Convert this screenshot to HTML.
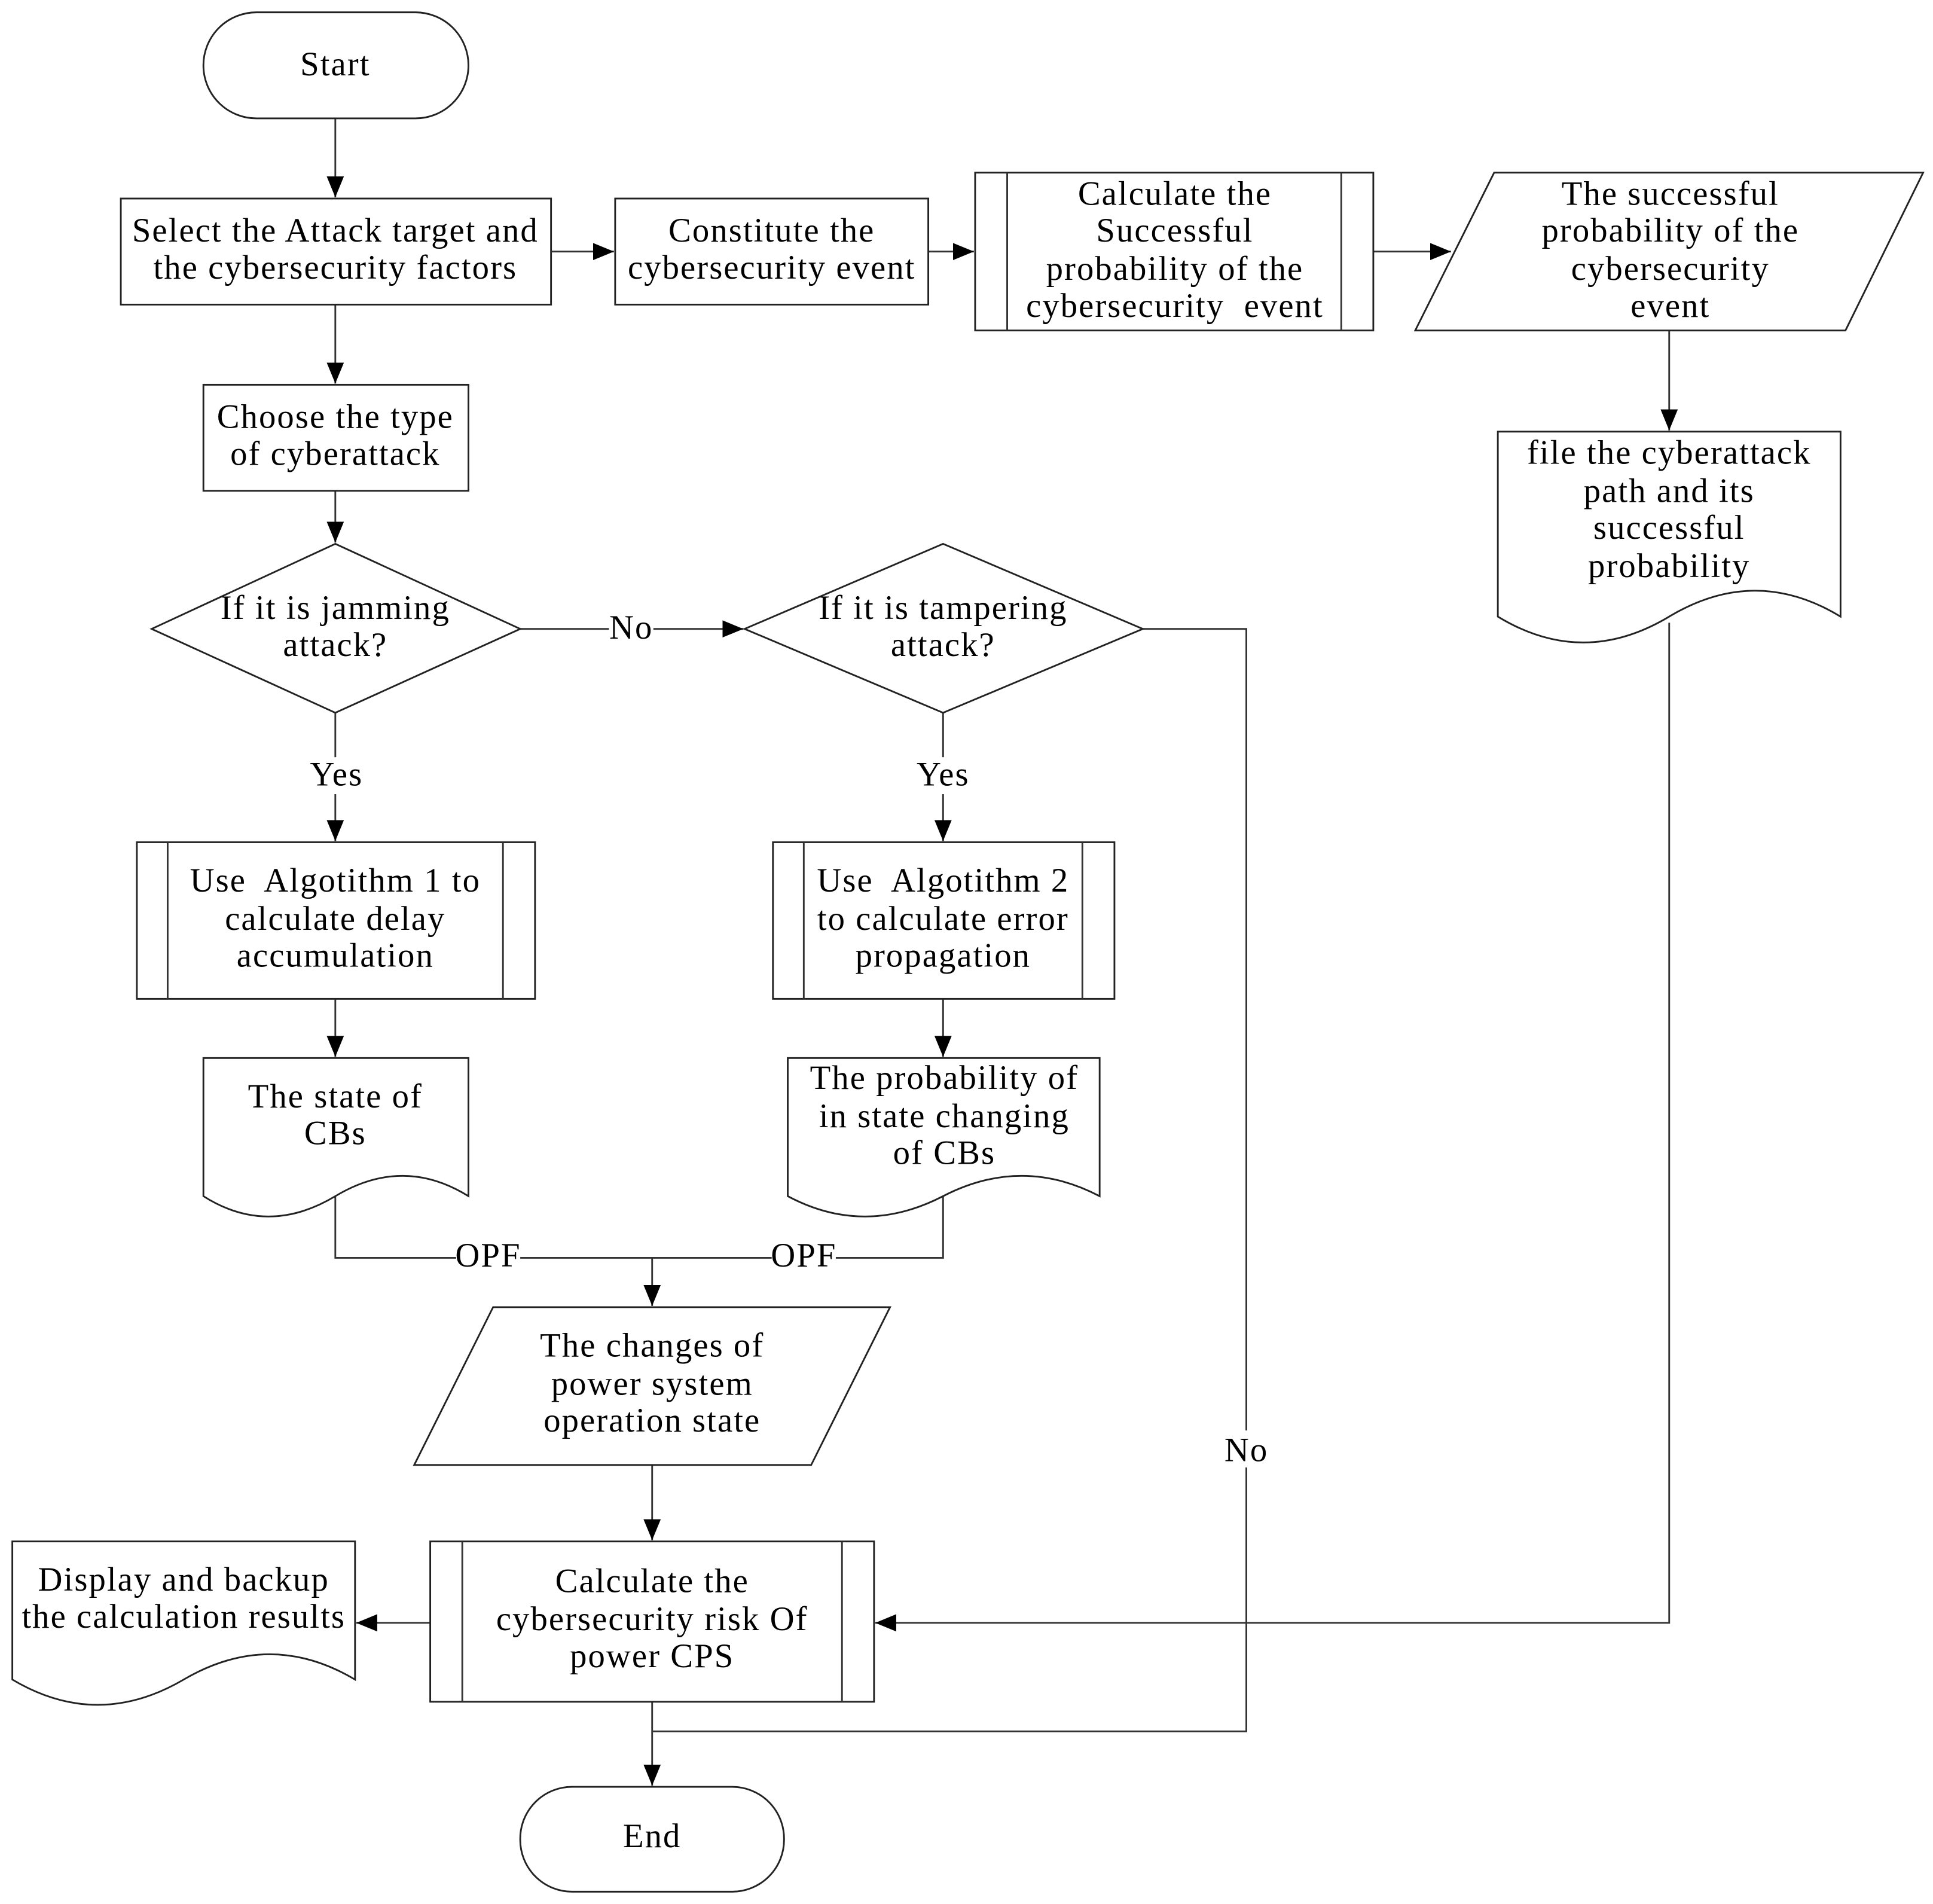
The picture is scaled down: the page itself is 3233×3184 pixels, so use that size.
<!DOCTYPE html>
<html><head><meta charset="utf-8"><style>
html,body{margin:0;padding:0;background:#fff;width:3233px;height:3184px;overflow:hidden}
svg{display:block}
text{font-family:"Liberation Serif",serif;font-size:27.5px;letter-spacing:1px;fill:#000;text-anchor:middle}
.s{fill:#fff;stroke:#222;stroke-width:1.4}
.l{fill:none;stroke:#333;stroke-width:1.4}
</style></head><body>
<svg width="3233" height="3184" viewBox="0 0 1568 1544" preserveAspectRatio="none">
<defs>
<marker id="b" markerWidth="18" markerHeight="18" refX="17" refY="9" orient="auto" markerUnits="userSpaceOnUse"><path d="M0,2 L17,9 L0,16 z" fill="#000"/></marker></defs>

<path class="l" d="M272,96 V160" marker-end="url(#b)"/>
<path class="l" d="M447,204 H498" marker-end="url(#b)"/>
<path class="l" d="M753,204 H790" marker-end="url(#b)"/>
<path class="l" d="M1114,204 H1177" marker-end="url(#b)"/>
<path class="l" d="M272,247 V311" marker-end="url(#b)"/>
<path class="l" d="M1354,268 V349" marker-end="url(#b)"/>
<path class="l" d="M272,398 V440" marker-end="url(#b)"/>
<path class="l" d="M422,510 H603" marker-end="url(#b)"/>
<path class="l" d="M272,578 V682" marker-end="url(#b)"/>
<path class="l" d="M765,578 V682" marker-end="url(#b)"/>
<path class="l" d="M272,810 V857" marker-end="url(#b)"/>
<path class="l" d="M765,810 V857" marker-end="url(#b)"/>
<path class="l" d="M272,970 V1020 H765 V970"/>
<path class="l" d="M529,1020 V1059" marker-end="url(#b)"/>
<path class="l" d="M529,1188 V1249" marker-end="url(#b)"/>
<path class="l" d="M927,510 H1011 V1404 H529"/>
<path class="l" d="M529,1380 V1448" marker-end="url(#b)"/>
<path class="l" d="M1354,505 V1316 H710" marker-end="url(#b)"/>
<path class="l" d="M349,1316 H289" marker-end="url(#b)"/>

<rect x="494" y="496" width="36" height="28" fill="#fff"/>
<text x="512" y="518">No</text>
<rect x="250" y="614" width="46" height="30" fill="#fff"/>
<text x="273" y="637">Yes</text>
<rect x="742" y="614" width="46" height="30" fill="#fff"/>
<text x="765" y="637">Yes</text>
<rect x="370" y="1006" width="52" height="28" fill="#fff"/>
<text x="396" y="1027">OPF</text>
<rect x="626" y="1006" width="52" height="28" fill="#fff"/>
<text x="652" y="1027">OPF</text>
<rect x="992" y="1160" width="38" height="30" fill="#fff"/>
<text x="1011" y="1185">No</text>

<rect class="s" x="165" y="10" width="215" height="86" rx="43"/>
<text x="272" y="61">Start</text>

<rect class="s" x="98" y="161" width="349" height="86"/>
<text x="272" y="196">Select the Attack target and</text>
<text x="272" y="226">the cybersecurity factors</text>

<rect class="s" x="499" y="161" width="254" height="86"/>
<text x="626" y="196">Constitute the</text>
<text x="626" y="226">cybersecurity event</text>

<rect class="s" x="791" y="140" width="323" height="128"/>
<path class="l" d="M817,140 V268 M1088,140 V268"/>
<text x="953" y="166">Calculate the</text>
<text x="953" y="196">Successful</text>
<text x="953" y="227">probability of the</text>
<text x="953" y="257">cybersecurity&#160; event</text>

<path class="s" d="M1212,140 H1560 L1497,268 H1148 Z"/>
<text x="1355" y="166">The successful</text>
<text x="1355" y="196">probability of the</text>
<text x="1355" y="227">cybersecurity</text>
<text x="1355" y="257">event</text>

<path class="s" d="M1215,350 H1493 V500 Q1424,458 1354,500 T1215,500 Z"/>
<text x="1354" y="376">file the cyberattack</text>
<text x="1354" y="407">path and its</text>
<text x="1354" y="437">successful</text>
<text x="1354" y="468">probability</text>

<rect class="s" x="165" y="312" width="215" height="86"/>
<text x="272" y="347">Choose the type</text>
<text x="272" y="377">of cyberattack</text>

<path class="s" d="M272,441 L422,510 L272,578 L123,510 Z"/>
<text x="272" y="502">If it is jamming</text>
<text x="272" y="532">attack?</text>

<path class="s" d="M765,441 L927,510 L765,578 L604,510 Z"/>
<text x="765" y="502">If it is tampering</text>
<text x="765" y="532">attack?</text>

<rect class="s" x="111" y="683" width="323" height="127"/>
<path class="l" d="M136,683 V810 M408,683 V810"/>
<text x="272" y="723">Use&#160; Algotithm 1 to</text>
<text x="272" y="754">calculate delay</text>
<text x="272" y="784">accumulation</text>

<rect class="s" x="627" y="683" width="277" height="127"/>
<path class="l" d="M652,683 V810 M878,683 V810"/>
<text x="765" y="723">Use&#160; Algotithm 2</text>
<text x="765" y="754">to calculate error</text>
<text x="765" y="784">propagation</text>

<path class="s" d="M165,858 H380 V970 Q327,937 272,970 T165,970 Z"/>
<text x="272" y="898">The state of</text>
<text x="272" y="928">CBs</text>

<path class="s" d="M639,858 H892 V970 Q829,937 765,970 T639,970 Z"/>
<text x="766" y="883">The probability of</text>
<text x="766" y="914">in state changing</text>
<text x="766" y="944">of CBs</text>

<path class="s" d="M400,1060 H722 L658,1188 H336 Z"/>
<text x="529" y="1100">The changes of</text>
<text x="529" y="1131">power system</text>
<text x="529" y="1161">operation state</text>

<rect class="s" x="349" y="1250" width="360" height="130"/>
<path class="l" d="M375,1250 V1380 M683,1250 V1380"/>
<text x="529" y="1291">Calculate the</text>
<text x="529" y="1322">cybersecurity risk Of</text>
<text x="529" y="1352">power CPS</text>

<path class="s" d="M10,1250 H288 V1362 Q219,1321 149,1362 T10,1362 Z"/>
<text x="149" y="1290">Display and backup</text>
<text x="149" y="1320">the calculation results</text>

<rect class="s" x="422" y="1449" width="214" height="85" rx="42"/>
<text x="529" y="1498">End</text>
</svg>
</body></html>
